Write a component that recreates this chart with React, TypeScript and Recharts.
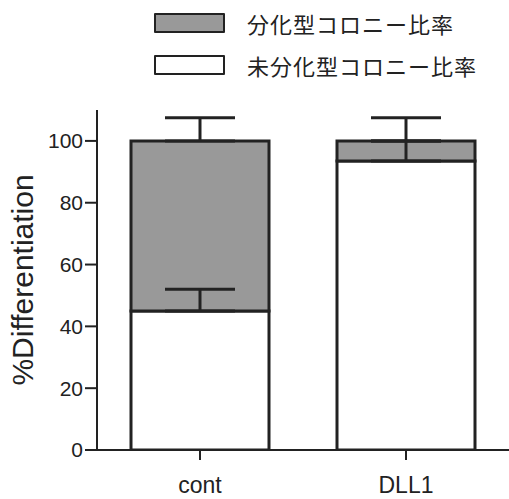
import React from 'react'
import { BarChart, Bar, XAxis, YAxis, Legend, ErrorBar } from 'recharts'

// groups on the x axis
const groups = ['cont', 'DLL1']
// series names (legend)
const diffName = '分化型コロニー比率'
const undiffName = '未分化型コロニー比率'
// % values per group
const undiffValues = [45, 93.5]
const diffValues = [55, 6.5]
// upward error for each segment
const undiffErr = [7, 6.5]
const diffErr = [7.5, 7.5]
const yTicks = [0, 20, 40, 60, 80, 100]

const data = groups.map((g, i) => ({
  name: g,
  undiff: undiffValues[i],
  diff: diffValues[i],
  undiffErr: [0, undiffErr[i]],
  diffErr: [0, diffErr[i]],
}))

const legendItems = [
  { name: diffName, fill: '#999999' },
  { name: undiffName, fill: '#ffffff' },
]

const sans = "'Liberation Sans', Arial, sans-serif"
const ink = '#222'

function LegendBox() {
  return (
    <div style={{ display: 'flex', flexDirection: 'column', gap: 22 }}>
      {legendItems.map((it) => (
        <div key={it.name} style={{ display: 'flex', alignItems: 'center', height: 20 }}>
          <div
            style={{
              width: 67,
              height: 16,
              border: `2px solid ${ink}`,
              background: it.fill,
              borderRadius: 1,
            }}
          />
          <span
            style={{
              marginLeft: 22,
              fontFamily: "'Noto Sans CJK JP', sans-serif",
              fontSize: 22,
              letterSpacing: 1,
              color: ink,
              lineHeight: '20px',
            }}
          >
            {it.name}
          </span>
        </div>
      ))}
    </div>
  )
}

export default function App() {
  return (
    <div style={{ position: 'absolute', left: 0, top: 0, width: 509, height: 499, background: '#fff' }}>
      <BarChart
        width={509}
        height={499}
        data={data}
        margin={{ top: 110, right: 0, bottom: 0, left: 0 }}
        barCategoryGap={34}
      >
        <XAxis
          dataKey="name"
          height={49}
          axisLine={{ stroke: ink, strokeWidth: 2 }}
          tickLine={{ stroke: ink, strokeWidth: 2 }}
          tickSize={10}
          tickMargin={17}
          tick={{ fill: ink, fontSize: 23, fontFamily: sans }}
        />
        <YAxis
          width={97}
          domain={[0, 110]}
          ticks={yTicks}
          allowDataOverflow
          axisLine={{ stroke: ink, strokeWidth: 2 }}
          tickLine={{ stroke: ink, strokeWidth: 2 }}
          tickSize={12}
          tickMargin={2}
          tick={{ fill: ink, fontSize: 21, fontFamily: sans }}
          label={{
            value: '%Differentiation',
            angle: -90,
            position: 'insideLeft',
            offset: 22,
            style: { textAnchor: 'middle', fontSize: 30, fill: ink, fontFamily: sans },
          }}
        />
        <Legend
          layout="vertical"
          align="center"
          verticalAlign="middle"
          wrapperStyle={{ top: 13, left: 154, width: 360 }}
          content={() => <LegendBox />}
        />
        <Bar dataKey="undiff" name={undiffName} stackId="a" fill="#ffffff" stroke={ink} strokeWidth={3} isAnimationActive={false}>
          <ErrorBar dataKey="undiffErr" direction="y" width={35} stroke={ink} strokeWidth={3} />
        </Bar>
        <Bar dataKey="diff" name={diffName} stackId="a" fill="#999999" stroke={ink} strokeWidth={3} isAnimationActive={false}>
          <ErrorBar dataKey="diffErr" direction="y" width={35} stroke={ink} strokeWidth={3} />
        </Bar>
      </BarChart>
    </div>
  )
}
